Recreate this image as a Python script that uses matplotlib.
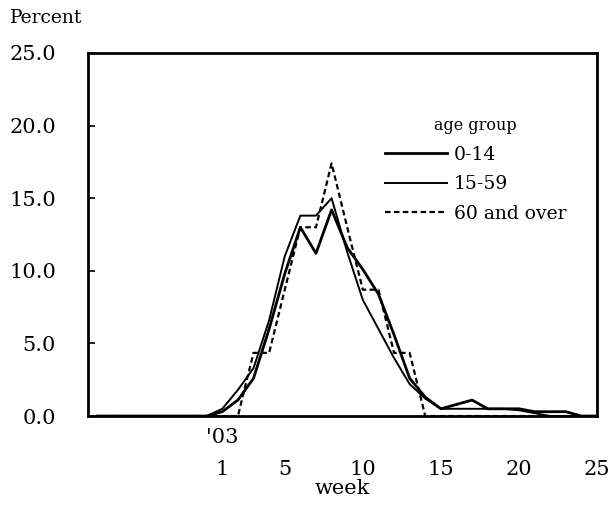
import matplotlib
matplotlib.use('Agg')
import matplotlib.pyplot as plt

# weekly share of cases (%) by age group, weeks of late '02 shown as <= 0
weeks = [-7, -6, -5, -4, -3, -2, -1, 0, 1, 2, 3, 4, 5, 6, 7, 8, 9, 10, 11, 12,
         13, 14, 15, 16, 17, 18, 19, 20, 21, 22, 23, 24, 25]
age_0_14 = [0, 0, 0, 0, 0, 0, 0, 0, 0.3, 1.1, 2.6, 6.0, 9.8, 13.0, 11.2, 14.2,
            11.6, 10.1, 8.4, 5.6, 2.6, 1.3, 0.5, 0.8, 1.1, 0.5, 0.5, 0.5, 0.3,
            0.3, 0.3, 0.0, 0.0]
age_15_59 = [0, 0, 0, 0, 0, 0, 0, 0, 0.5, 1.8, 3.3, 6.6, 11.0, 13.8, 13.8, 15.0,
             11.3, 8.0, 6.0, 4.0, 2.2, 1.2, 0.5, 0.5, 0.5, 0.5, 0.5, 0.4, 0.2,
             0.0, 0.0, 0.0, 0.0]
age_60_over = [0, 0, 0, 0, 0, 0, 0, 0, 0, 0, 4.35, 4.35, 8.7, 13.0, 13.0, 17.4,
               13.0, 8.7, 8.7, 4.35, 4.35, 0, 0, 0, 0, 0, 0, 0, 0, 0, 0, 0, 0]

xticks = [1, 5, 10, 15, 20, 25]
yticks = [0, 5, 10, 15, 20, 25]

plt.rcParams['font.family'] = ['DejaVu Serif']

fig = plt.figure(figsize=(6.1, 5.08), dpi=100)
ax = fig.add_axes([0.1443, 0.181, 0.8344, 0.7147])

ax.plot(weeks, age_0_14, color='black', lw=2.0, label='0-14')
ax.plot(weeks, age_15_59, color='black', lw=1.4, label='15-59')
ax.plot(weeks, age_60_over, color='black', lw=1.6, ls=(0, (2.5, 1.5)), label='60 and over')

ax.set_xlim(-7.6, 25)
ax.set_ylim(0, 25)

ax.set_yticks(yticks)
ax.set_yticklabels(['%.1f' % v for v in yticks])
ax.tick_params(axis='y', direction='in', length=5, width=1.2, pad=23, labelsize=15)

ax.set_xticks(xticks)
ax.set_xticklabels([str(v) for v in xticks])
ax.tick_params(axis='x', length=0, pad=32, labelsize=15)

for s in ax.spines.values():
    s.set_linewidth(2)

ax.text(1, -0.058, "'03", transform=ax.get_xaxis_transform(),
        ha='center', va='center', fontsize=15)
ax.set_xlabel('week', fontsize=15, labelpad=0)
fig.text(10 / 610, 1 - 18 / 508, 'Percent', ha='left', va='center', fontsize=13.5)

leg = ax.legend(title='age group', loc='upper left', bbox_to_anchor=(0.55, 0.87),
                frameon=False, fontsize=13.5, title_fontsize=11.5,
                handlelength=3.3, handletextpad=0.4, labelspacing=0.62)

fig.savefig('out.png', dpi=100)
